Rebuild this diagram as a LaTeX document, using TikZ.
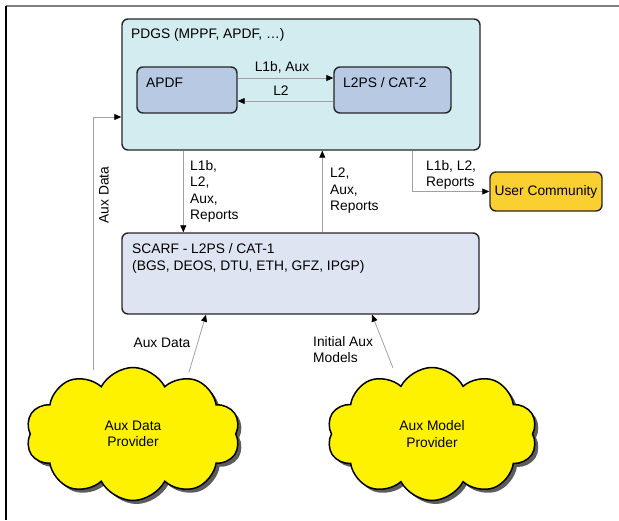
\documentclass[tikz,border=0pt]{standalone}
\usepackage{fontspec}
\setmainfont{Liberation Sans}
\usetikzlibrary{positioning,arrows.meta,shapes.symbols,shadows}

\definecolor{pdgsfill}{RGB}{211,236,240}
\definecolor{subfill}{RGB}{184,201,228}
\definecolor{scarffill}{RGB}{222,228,242}
\definecolor{userfill}{RGB}{250,208,48}
\definecolor{flowgray}{RGB}{160,160,160}

\tikzset{
    box/.style={draw=black!85, line width=1.4pt, rounded corners=6pt, inner sep=0pt},
    txt/.style={inner sep=0pt, align=left, font=\fontsize{13.8}{16.5}\selectfont},
    flow/.style={draw=flowgray, line width=0.8pt, -{Triangle[length=7pt,width=6pt,color=black]}},
    provider/.style={cloud, cloud puffs=10, cloud puff arc=125, cloud ignores aspect,
        draw=black, line width=1.5pt, fill=yellow, align=center,
        font=\fontsize{13.8}{16.5}\selectfont,
        drop shadow={shadow xshift=3.5pt, shadow yshift=-3.5pt, fill=black!85, opacity=0.75}}
}

\begin{document}
\begin{tikzpicture}[x=1pt,y=-1pt]
    \useasboundingbox (0,0) rectangle (619,520);

    % frame lines
    \draw[gray, line width=2pt] (6,6) -- (619,6);
    \draw[black, line width=1.5pt] (6,6) -- (6,520);

    % PDGS with APDF and CAT-2
    \node[box, fill=pdgsfill, minimum width=358pt, minimum height=131pt] (pdgs) at (301,84.5) {};
    \node[txt, anchor=west] (pdgslbl) at (131,35) {PDGS (MPPF, APDF, …)};

    \node[box, fill=subfill, minimum width=100pt, minimum height=46pt] (apdf) at (187,90) {};
    \node[txt, anchor=west] (apdflbl) at (146,82.5) {APDF};

    \node[box, fill=subfill, minimum width=117pt, minimum height=46pt] (cattwo) at (392.5,90) {};
    \node[txt, anchor=west] (cattwolbl) at (343,82.5) {L2PS / CAT-2};

    \draw[flow] ([yshift=12pt]apdf.east) -- ([yshift=12pt]cattwo.west);
    \node[txt] (l1baux) at (282,67) {L1b, Aux};
    \draw[flow] ([yshift=-11pt]cattwo.west) -- ([yshift=-11pt]apdf.east);
    \node[txt] (l2back) at (281,91) {L2};

    % SCARF
    \node[box, fill=scarffill, minimum width=357pt, minimum height=81pt] (scarf) at (300.5,273.5) {};
    \node[txt, anchor=west] (scarflbl) at (132,258.5) {SCARF - L2PS / CAT-1\\(BGS, DEOS, DTU, ETH, GFZ, IPGP)};

    % user community
    \node[box, fill=userfill, minimum width=112pt, minimum height=39pt, font=\fontsize{13.8}{16.5}\selectfont] (users) at (546,191.5) {User Community};

    % flows between PDGS, SCARF and users
    \draw[flow] ([xshift=62pt]pdgs.south west) -- ([xshift=62pt]scarf.north west);
    \node[txt, anchor=west] (downlbl) at (190,191.5) {L1b,\\L2,\\Aux,\\Reports};

    \draw[flow] ([xshift=201pt]scarf.north west) -- ([xshift=201pt]pdgs.south west);
    \node[txt, anchor=west] (uplbl) at (330,191) {L2,\\Aux,\\Reports};

    \draw[flow] ([xshift=291pt]pdgs.south west) |- (users.west);
    \node[txt, anchor=west] (userlbl) at (426,175) {L1b, L2,\\Reports};

    % flows from the providers
    \coordinate (adpup) at (93,370);
    \coordinate (adpout) at (189,372);
    \coordinate (ampout) at (393,368);

    \draw[flow] (adpup) |- ([yshift=-32.5pt]pdgs.west);
    \node[txt, rotate=90] (auxvert) at (104,195) {Aux Data};

    \draw[flow] (adpout) -- ([xshift=-94.5pt]scarf.south);
    \node[txt] (auxlbl) at (162,343) {Aux Data};

    \draw[flow] (ampout) -- ([xshift=71.5pt]scarf.south);
    \node[txt, anchor=west] (initlbl) at (313,349.5) {Initial Aux\\Models};

    % providers
    \node[provider, minimum width=214pt, minimum height=133pt] (adp) at (133,434) {Aux Data\\Provider};
    \node[provider, minimum width=210pt, minimum height=133pt] (amp) at (432,434) {Aux Model\\Provider};
\end{tikzpicture}
\end{document}
